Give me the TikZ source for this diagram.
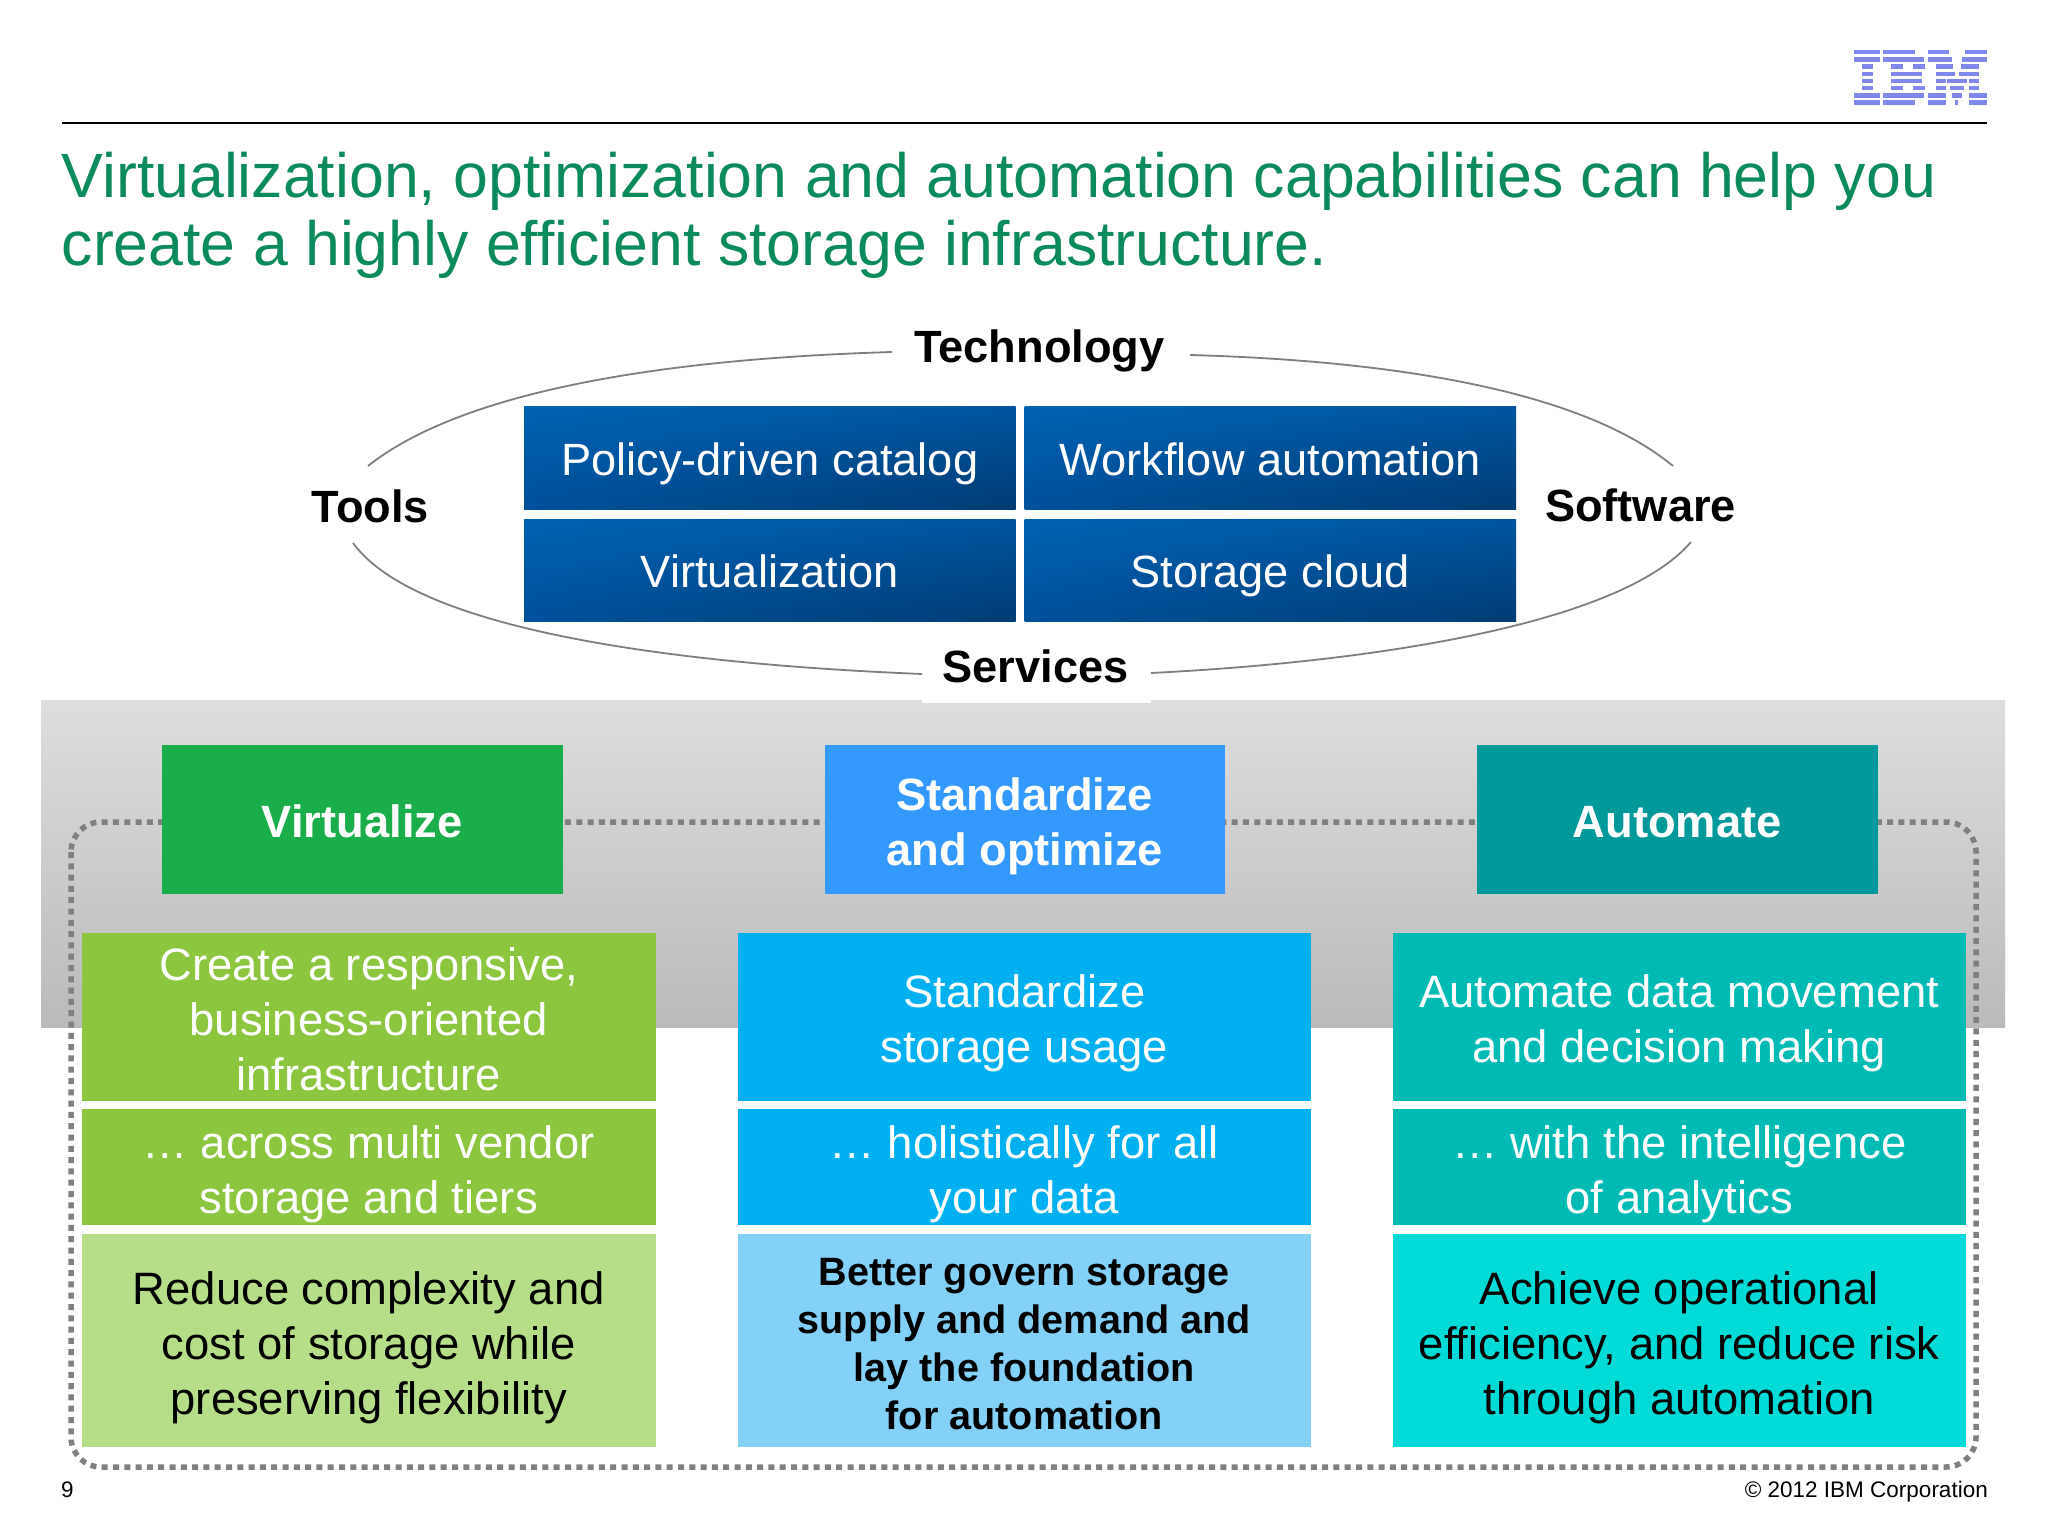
\documentclass[tikz,border=0pt]{standalone}
\usepackage{fontspec}
\setmainfont{Liberation Sans}
\usetikzlibrary{calc,shadings}
\definecolor{titlegreen}{HTML}{0B8A5B}
\definecolor{logoblue}{HTML}{8088EE}
\definecolor{ringgrey}{HTML}{7F7F7F}
\definecolor{dotgrey}{HTML}{808080}
\definecolor{hdA}{HTML}{1AAE4B}
\definecolor{hdB}{HTML}{3399FF}
\definecolor{hdC}{HTML}{009999}
\definecolor{midA}{HTML}{8CC63F}
\definecolor{midB}{HTML}{00B0F0}
\definecolor{midC}{HTML}{00BAB4}
\definecolor{lowA}{HTML}{B6DD87}
\definecolor{lowB}{HTML}{84D1F7}
\definecolor{lowC}{HTML}{00DBD8}
\definecolor{blueTL}{HTML}{0062B2}
\definecolor{blueTR}{HTML}{00559F}
\definecolor{blueBL}{HTML}{00509A}
\definecolor{blueBR}{HTML}{003B74}
\newcommand\lnstrut{\rule[-0.22em]{0pt}{1.22em}}
\newcommand\tp[1]{\rule{0pt}{#1em}}
\tikzset{
  cellbox/.style={inner sep=0pt,outer sep=0pt,align=center,anchor=north west,
     execute at begin node=\lnstrut,execute at end node=\lnstrut},
  bluebox/.style={cellbox,text=white,font=\fontsize{45.2}{55}\selectfont,minimum width=491.5pt,minimum height=102.5pt,
     upper left=blueTL,upper right=blueTR,lower left=blueBL,lower right=blueBR},
  headbox/.style={cellbox,text=white,font=\fontsize{45.3}{55}\bfseries\selectfont,minimum width=400.5pt,minimum height=149pt,fill=#1},
  bodybox/.style={cellbox,text=white,font=\fontsize{45.4}{55}\selectfont,minimum width=573.5pt,fill=#1},
  lowbox/.style={cellbox,text=black,font=\fontsize{45.4}{55}\selectfont,minimum width=573.5pt,minimum height=213pt,fill=#1},
  ring/.style={draw=ringgrey,line width=1.8pt},
  ringlabel/.style={inner sep=0pt,outer sep=0pt,font=\fontsize{45.2}{55}\bfseries\selectfont},
}
\begin{document}
\begin{tikzpicture}[x=1pt,y=-1pt]
\useasboundingbox (0,0) rectangle (2048,1536);
\fill[white] (0,0) rectangle (2048,1536);
% grey band
\shade[top color=black!13,middle color=black!17,bottom color=black!27] (41,700) rectangle (2005,1027);
\fill[white] (922,690) rectangle (1151,703);
% header
\draw[line width=2pt,black] (62,123) -- (1987,123);
\begin{scope}[shift={(1850,45)},x=0.3333pt,y=-0.3333pt]
\foreach \r/\segs in {0/{12/90,100/195,234/298,345/410},
                      1/{12/90,100/222,234/305,337/410},
                      2/{35/68,124/158,190/225,258/310,332/388},
                      3/{35/68,124/215,258/316,326/388},
                      4/{35/68,124/215,258/288,292/350,356/388},
                      5/{35/68,124/158,190/225,258/288,300/342,356/388},
                      6/{12/90,100/222,234/288,305/335,356/410},
                      7/{12/90,100/195,234/288,315/325,356/410}}{
  \foreach \a/\b in \segs {
    \fill[logoblue] (\a,{15+21.6*\r}) rectangle (\b,{28+21.6*\r});
  }
}
\end{scope}
\node[inner sep=0pt,anchor=north west,align=left,text=titlegreen,font=\fontsize{62.6}{68}\selectfont] (title) at (61.5,151.5)
  {Virtualization, optimization and automation capabilities can help you\\create a highly efficient storage infrastructure.};
% ring
\coordinate (ringA) at (368,466);
\coordinate (ringB) at (892,352);
\coordinate (ringC) at (1190,355);
\coordinate (ringD) at (1673,466);
\coordinate (ringE) at (353,543);
\coordinate (ringF) at (922,674);
\coordinate (ringG) at (1151,673);
\coordinate (ringH) at (1691,542);
\draw[ring] (ringA) .. controls (470,385) and (690,358) .. (ringB);
\draw[ring] (ringC) .. controls (1370,360) and (1575,385) .. (ringD);
\draw[ring] (ringE) .. controls (420,635) and (700,665) .. (ringF);
\draw[ring] (ringG) .. controls (1370,662) and (1620,625) .. (ringH);
\node[ringlabel] (tech) at (1039.5,351) {Technology};
\node[ringlabel] (tools) at (370.5,506) {Tools};
\node[ringlabel] (soft) at (1640.5,505) {Software};
\node[ringlabel] (serv) at (1035.5,666.5) {Services};
% blue cells
\node[bluebox,shade] (pol) at (524,406.5) {Policy-driven catalog};
\node[bluebox,shade] (wor) at (1024.5,406.5) {Workflow automation};
\node[bluebox,shade] (vir) at (524,519) {Virtualization};
\node[bluebox,shade] (sto) at (1024.5,519) {Storage cloud};
% dotted frame
\draw[draw=dotgrey,line width=5.5pt,dash pattern=on 6pt off 5.3pt,rounded corners=30pt] (71,822) rectangle (1976,1467);
% heads
\node[headbox=hdA] (h1) at (162,745) {Virtualize};
\node[headbox=hdB] (h2) at (824.5,745) {\tp{1.05}Standardize\\and optimize};
\node[headbox=hdC] (h3) at (1477,745) {Automate};
% col 1
\node[bodybox=midA,minimum height=168pt] (a1) at (82,933) {\tp{1.04}Create a responsive,\\business-oriented\\infrastructure};
\node[bodybox=midA,minimum height=116pt] (a2) at (82,1109) {\tp{1.06}… across multi vendor\\storage and tiers};
\node[lowbox=lowA] (a3) at (82,1234) {\tp{1.07}Reduce complexity and\\cost of storage while\\preserving flexibility};
% col 2
\node[bodybox=midB,minimum height=168pt] (b1) at (737.5,933) {\tp{1.02}Standardize\\storage usage};
\node[bodybox=midB,minimum height=116pt] (b2) at (737.5,1109) {\tp{1.06}… holistically for all\\your data};
\node[lowbox=lowB,font=\fontsize{39.6}{48}\bfseries\selectfont] (b3) at (737.5,1234) {\tp{1.08}Better govern storage\\supply and demand and\\lay the foundation\\for automation};
% col 3
\node[bodybox=midC,minimum height=168pt] (c1) at (1392.5,933) {\tp{1.02}Automate data movement\\and decision making};
\node[bodybox=midC,minimum height=116pt] (c2) at (1392.5,1109) {\tp{1.06}… with the intelligence\\of analytics};
\node[lowbox=lowC] (c3) at (1392.5,1234) {\tp{1.07}Achieve operational\\efficiency, and reduce risk\\through automation};
% footer
\node[inner sep=0pt,anchor=base west,font=\fontsize{22.5}{27}\selectfont] (pg) at (61,1497) {9};
\node[inner sep=0pt,anchor=base east,font=\fontsize{22.5}{27}\selectfont] (cp) at (1988,1497) {© 2012 IBM Corporation};
\end{tikzpicture}
\end{document}
